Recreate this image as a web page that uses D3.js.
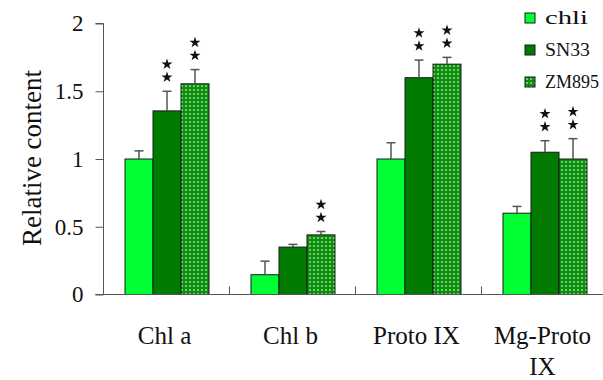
<!DOCTYPE html>
<html>
<head>
<meta charset="utf-8">
<script src="https://cdn.jsdelivr.net/npm/d3@7"></script>
<style>
  body { margin: 0; background: #fff; }
  svg { display: block; }
</style>
</head>
<body>
<svg id="chart" width="603" height="380"></svg>
<script>
// data
const categories = ["Chl a", "Chl b", "Proto IX", "Mg-Proto IX"];
const seriesNames = ["chli", "SN33", "ZM895"];
const chliVals = [1.0, 0.146, 1.0, 0.60];
const chliErr = [0.06, 0.10, 0.12, 0.05];
const sn33Vals = [1.355, 0.35, 1.60, 1.05];
const sn33Err = [0.145, 0.02, 0.13, 0.085];
const zmVals = [1.555, 0.44, 1.70, 1.0];
const zmErr = [0.105, 0.025, 0.05, 0.15];
const sn33Stars = [true, false, true, true];
const zmStars = [true, true, true, true];
const yTicks = [0, 0.5, 1, 1.5, 2];

const svg = d3.select("#chart");
const x0 = 103.5, yBase = 294.5, yTop = 23.5;

const y = d3.scaleLinear().domain([0, 2]).range([yBase, yTop]);
const x = d3.scaleBand().domain(categories).range([x0, x0 + 126 * 4]);
const xs = d3.scaleBand().domain(seriesNames).range([21.5, 105.5]);

const defs = svg.append("defs");
const pat = defs.append("pattern")
  .attr("id", "dots")
  .attr("width", 4).attr("height", 4)
  .attr("patternUnits", "userSpaceOnUse");
pat.append("rect").attr("width", 4).attr("height", 4).attr("fill", "#138a13");
pat.append("rect").attr("x", 1).attr("y", 1).attr("width", 2).attr("height", 2).attr("fill", "#5ed85e");

const fills = { chli: "#00ff33", SN33: "#007a00", ZM895: "url(#dots)" };

const rows = [];
categories.forEach((c, i) => {
  rows.push({ cat: c, s: "chli", v: chliVals[i], e: chliErr[i], star: false });
  rows.push({ cat: c, s: "SN33", v: sn33Vals[i], e: sn33Err[i], star: sn33Stars[i] });
  rows.push({ cat: c, s: "ZM895", v: zmVals[i], e: zmErr[i], star: zmStars[i] });
});

// bars
svg.append("g").selectAll("rect")
  .data(rows).enter().append("rect")
  .attr("x", d => x(d.cat) + xs(d.s))
  .attr("y", d => y(d.v))
  .attr("width", xs.bandwidth())
  .attr("height", d => yBase - y(d.v))
  .attr("fill", d => fills[d.s])
  .attr("stroke", "#1a1a1a")
  .attr("stroke-width", 1);

// error bars (upward only)
const eb = svg.append("g").attr("stroke", "#555").attr("stroke-width", 1.5);
rows.forEach(d => {
  const cx = x(d.cat) + xs(d.s) + xs.bandwidth() / 2;
  eb.append("line").attr("x1", cx).attr("x2", cx).attr("y1", y(d.v)).attr("y2", y(d.v + d.e));
  eb.append("line").attr("x1", cx - 4.5).attr("x2", cx + 4.5).attr("y1", y(d.v + d.e)).attr("y2", y(d.v + d.e));
});

// significance stars
const star = d3.symbol().type(d3.symbolStar).size(38);
rows.filter(d => d.star).forEach(d => {
  const cx = x(d.cat) + xs(d.s) + xs.bandwidth() / 2;
  const top = y(d.v + d.e);
  [14, 27].forEach(off => {
    svg.append("path").attr("d", star())
      .attr("transform", `translate(${cx},${top - off})`)
      .attr("fill", "#111");
  });
});

// axes
const yAxis = svg.append("g")
  .attr("transform", `translate(${x0},0)`)
  .call(d3.axisLeft(y).tickValues(yTicks).tickSize(8).tickPadding(12).tickFormat(d3.format("")));
yAxis.select(".domain").attr("stroke", "#555").attr("d", `M-8,${yTop}H0V${yBase}H-8`);
yAxis.selectAll(".tick line").attr("stroke", "#555");
yAxis.selectAll("text").attr("font-family", "Liberation Serif").attr("font-size", 23).attr("fill", "#111");

svg.append("line").attr("x1", x0 - 8).attr("x2", 603).attr("y1", yBase).attr("y2", yBase).attr("stroke", "#555");
svg.append("g").selectAll("line")
  .data(categories.slice(1)).enter().append("line")
  .attr("x1", d => x(d)).attr("x2", d => x(d))
  .attr("y1", yBase).attr("y2", yBase - 8)
  .attr("stroke", "#555");

// category labels
const labelLines = [["Chl a"], ["Chl b"], ["Proto IX"], ["Mg-Proto", "IX"]];
categories.forEach((c, i) => {
  const cx = x(c) + x.bandwidth() / 2 - 2;
  const t = svg.append("text")
    .attr("x", cx)
    .attr("y", 344)
    .attr("text-anchor", "middle")
    .attr("font-family", "Liberation Serif")
    .attr("font-size", 25)
    .attr("fill", "#111");
  labelLines[i].forEach((ln, j) => {
    t.append("tspan").attr("x", cx).attr("dy", j ? 31 : 0).text(ln);
  });
});

svg.append("text")
  .attr("transform", "translate(41,158) rotate(-90)")
  .attr("text-anchor", "middle")
  .attr("font-family", "Liberation Serif")
  .attr("font-size", 27)
  .attr("fill", "#111")
  .text("Relative content");

// legend
const legWidths = { chli: 43, SN33: 45, ZM895: 54 };
const leg = svg.append("g").attr("transform", "translate(525,13)");
seriesNames.forEach((s, i) => {
  leg.append("rect").attr("x", 0).attr("y", i * 32).attr("width", 10).attr("height", 10)
    .attr("fill", fills[s]).attr("stroke", "#1a1a1a").attr("stroke-width", 1);
  leg.append("text").attr("x", 20).attr("y", i * 32 + 11)
    .attr("font-family", "Liberation Serif").attr("font-size", 19).attr("fill", "#111")
    .attr("textLength", legWidths[s]).attr("lengthAdjust", "spacingAndGlyphs")
    .text(s);
});
</script>
</body>
</html>
